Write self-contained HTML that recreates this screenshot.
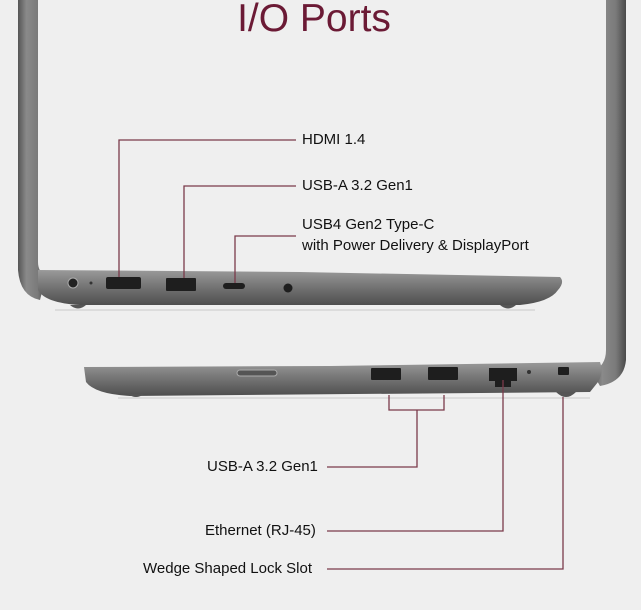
<!DOCTYPE html>
<html><head><style>
html,body{margin:0;padding:0;background:#efefef;}
body{width:641px;height:610px;overflow:hidden;position:relative;font-family:"Liberation Sans",Arial,sans-serif;}
.t{position:absolute;font-size:15px;color:#111;white-space:nowrap;}
</style></head><body>
<svg width="641" height="610" style="position:absolute;left:0;top:0">
<defs>
<linearGradient id="b" x1="0" y1="0" x2="0" y2="1">
<stop offset="0" stop-color="#9a9a9a"/><stop offset="0.4" stop-color="#7a7a7a"/><stop offset="1" stop-color="#4e4e4e"/>
</linearGradient>
<linearGradient id="bz" x1="0" y1="0" x2="1" y2="0">
<stop offset="0" stop-color="#555"/><stop offset="0.3" stop-color="#8a8a8a"/><stop offset="0.7" stop-color="#7a7a7a"/><stop offset="1" stop-color="#4a4a4a"/>
</linearGradient>
</defs>
<path d="M18 0 L38 0 L38 262 Q38 272 46 276 L40 300 Q20 296 18 270 Z" fill="url(#bz)"/>
<path d="M606 0 L626 0 L626 360 Q624 382 600 386 L592 372 Q606 366 606 350 Z" fill="url(#bz)"/>
<line x1="55" y1="310" x2="535" y2="310" stroke="#c8c8c8" stroke-width="1"/>
<path d="M38 270 L300 272 L560 277 Q565 282 558 290 Q550 302 520 305 L80 305 Q45 303 38 290 Z" fill="url(#b)"/>
<path d="M70 305 Q78 312 86 305 Z M500 305 Q508 312 516 305Z" fill="#555"/>
<circle cx="73" cy="283" r="5" fill="#222" stroke="#aaa"/>
<circle cx="91" cy="283" r="1.5" fill="#333"/>
<rect x="106" y="277" width="35" height="12" rx="2" fill="#1e1e1e"/>
<rect x="166" y="278" width="30" height="13" rx="1" fill="#1e1e1e"/>
<rect x="223" y="283" width="22" height="6" rx="3" fill="#1e1e1e"/>
<circle cx="288" cy="288" r="4.5" fill="#1e1e1e"/>
<line x1="118" y1="398" x2="590" y2="398" stroke="#c8c8c8" stroke-width="1"/>
<path d="M84 367 L330 366 L600 362 Q604 372 598 382 L590 392 L130 396 Q95 394 86 382 Z" fill="url(#b)"/>
<path d="M128 394 Q136 400 144 394 Z M556 392 Q566 402 576 392Z" fill="#555"/>
<rect x="237" y="370" width="40" height="6" rx="3" fill="#555" stroke="#aaa"/>
<rect x="371" y="368" width="30" height="12" rx="1" fill="#1e1e1e"/>
<rect x="428" y="367" width="30" height="13" rx="1" fill="#1e1e1e"/>
<rect x="489" y="368" width="28" height="13" fill="#1e1e1e"/>
<rect x="495" y="378" width="16" height="9" fill="#1e1e1e"/>
<circle cx="529" cy="372" r="2" fill="#333"/>
<rect x="558" y="367" width="11" height="8" rx="1" fill="#1e1e1e"/>
<g stroke="#7a3a4a" stroke-width="1.3" fill="none">
<path d="M119 277 V140 H296"/>
<path d="M184 278 V186 H296"/>
<path d="M235 283 V236 H296"/>
<path d="M389 395 V410 H444 V395 M417 410 V467 H327"/>
<path d="M503 380 V531 H327"/>
<path d="M563 397 V569 H327"/>
</g>
</svg>
<div style="position:absolute;left:0;width:628px;top:-3px;text-align:center;font-size:39px;color:#6b1a35;">I/O Ports</div>
<div class="t" style="left:302px;top:131px">HDMI 1.4</div>
<div class="t" style="left:302px;top:177px">USB-A 3.2 Gen1</div>
<div class="t" style="left:302px;top:214px;line-height:21px">USB4 Gen2 Type-C<br>with Power Delivery &amp; DisplayPort</div>
<div class="t" style="left:207px;top:458px">USB-A 3.2 Gen1</div>
<div class="t" style="left:205px;top:522px">Ethernet (RJ-45)</div>
<div class="t" style="left:143px;top:560px">Wedge Shaped Lock Slot</div>
</body></html>
